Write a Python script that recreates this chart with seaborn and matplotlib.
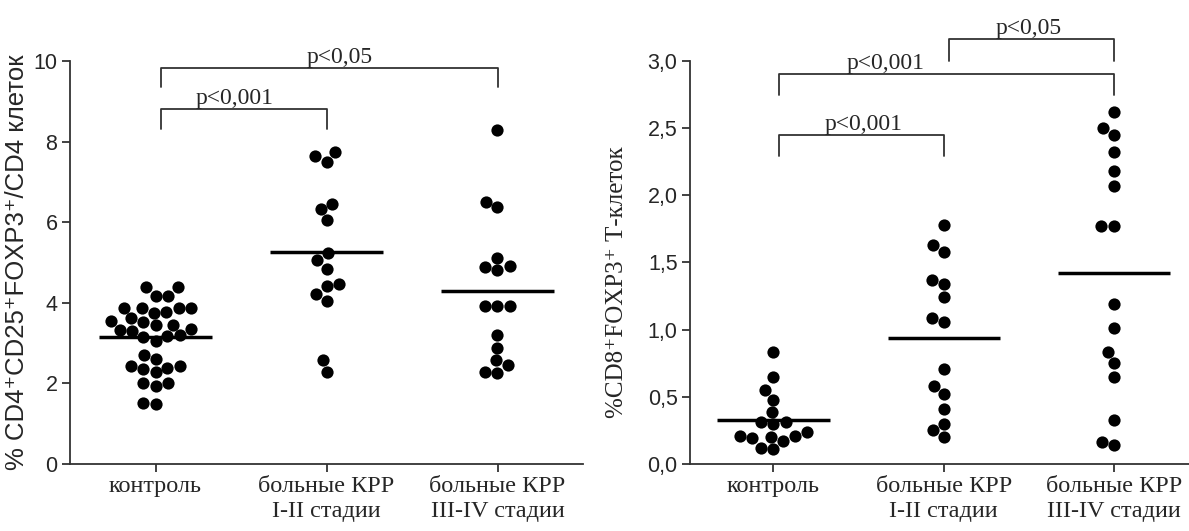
import numpy as np
import pandas as pd
import matplotlib
matplotlib.use("Agg")
import matplotlib.pyplot as plt
import seaborn as sns

sns.set_style("ticks")
plt.rcParams['font.family'] = ['Liberation Sans', 'DejaVu Sans']

groups = ["контроль", "больные КРР\nI-II стадии", "больные КРР\nIII-IV стадии"]

# левая панель: % CD4+CD25+FOXP3+ / CD4
cd4_control = [4.39, 4.39, 4.18, 4.18, 3.88, 3.88, 3.78, 3.88, 3.88, 3.63, 3.52, 3.56,
               3.75, 3.45, 3.33, 3.45, 3.35, 3.31, 3.20, 3.14, 3.06, 3.18, 2.71, 2.43,
               2.39, 2.43, 2.35, 2.60, 2.28, 2.02, 1.93, 2.02, 1.49, 1.52]
cd4_stage12 = [7.73, 7.64, 7.50, 6.33, 6.45, 6.06, 5.23, 5.06, 4.85, 4.46, 4.42, 4.23,
               4.04, 2.58, 2.29]
cd4_stage34 = [8.29, 6.38, 6.50, 5.12, 4.88, 4.81, 4.91, 3.92, 3.92, 3.92, 3.20, 2.89,
               2.46, 2.58, 2.27, 2.29]
cd4_means = [3.14, 5.26, 4.28]

# правая панель: % CD8+FOXP3+ Т-клеток
cd8_control = [0.83, 0.65, 0.55, 0.48, 0.39, 0.31, 0.30, 0.31, 0.24, 0.21, 0.19, 0.20,
               0.21, 0.17, 0.11, 0.12]
cd8_stage12 = [1.78, 1.63, 1.58, 1.34, 1.37, 1.24, 1.06, 1.09, 0.71, 0.58, 0.52, 0.41,
               0.30, 0.25, 0.20]
cd8_stage34 = [2.62, 2.50, 2.45, 2.32, 2.18, 2.07, 1.77, 1.77, 1.19, 1.01, 0.83, 0.75,
               0.65, 0.33, 0.14, 0.16]
cd8_means = [0.33, 0.94, 1.42]

# скобки: (группа1, группа2, уровень, низ, подпись)
cd4_brackets = [(0, 2, 9.83, 9.35, "p<0,05"), (0, 1, 8.81, 8.30, "p<0,001")]
cd8_brackets = [(0, 1, 2.45, 2.29, "p<0,001"), (0, 2, 2.90, 2.75, "p<0,001"),
                (1, 2, 3.16, 3.00, "p<0,05")]


def make_df(vals):
    rows = []
    for g, v in zip(groups, vals):
        rows += [(g, x) for x in v]
    return pd.DataFrame(rows, columns=["group", "value"])


serif = ['Liberation Serif', 'DejaVu Serif']
sans = ['Liberation Sans', 'DejaVu Sans']

fig = plt.figure(figsize=(11.89, 5.31), dpi=100)
ax1 = fig.add_axes([70 / 1189, 0.1262, 513 / 1189, 0.759])
ax2 = fig.add_axes([690 / 1189, 0.1262, 499 / 1189, 0.759])


def draw_panel(ax, df, means, brackets, text_x, ylim, ticks, ticklabels):
    # раскладка роя считается по крупному маркеру, потом точки уменьшаем
    sns.swarmplot(data=df, x="group", y="value", order=groups, color="black",
                  size=11, ax=ax, warn_thresh=1)
    for coll in ax.collections:
        coll.set_sizes([8.8 ** 2])
    for i, m in enumerate(means):
        ax.hlines(m, i - 0.33, i + 0.33, color="black", lw=2.5, zorder=3)
    for (a, b, top, low, lab), tx in zip(brackets, text_x):
        ax.plot([a + 0.03, a + 0.03, b + 0.0, b + 0.0], [low, top, top, low],
                color="#333333", lw=1.3, clip_on=False)
        ax.text(tx, top, lab, ha="center", va="bottom", fontsize=17,
                family=serif)
    ax.set_ylim(*ylim)
    ax.set_yticks(ticks)
    ax.set_yticklabels(ticklabels, fontsize=15.5, family=sans)
    ax.set_xticks(range(3))
    ax.set_xticklabels(groups, fontsize=17.5, family=serif)
    ax.set_xlabel("")
    sns.despine(ax=ax)
    for s in ["left", "bottom"]:
        ax.spines[s].set_linewidth(1.3)
        ax.spines[s].set_color("#333333")
    ax.tick_params(axis="both", width=1.3, length=6, color="#333333", pad=3)


draw_panel(ax1, make_df([cd4_control, cd4_stage12, cd4_stage34]), cd4_means,
           cd4_brackets, [1.08, 0.46], (0, 10), [0, 2, 4, 6, 8, 10],
           ["0", "2", "4", "6", "8", "10"])
ax1.set_xlim(-0.5, 2.5)
ax1.set_ylabel("% CD4⁺CD25⁺FOXP3⁺/CD4 клеток", fontsize=18.5, family=sans,
               labelpad=3)

draw_panel(ax2, make_df([cd8_control, cd8_stage12, cd8_stage34]), cd8_means,
           cd8_brackets, [0.53, 0.66, 1.50], (0, 3.0),
           [0, 0.5, 1.0, 1.5, 2.0, 2.5, 3.0],
           ["0,0", "0,5", "1,0", "1,5", "2,0", "2,5", "3,0"])
ax2.set_xlim(-0.49, 2.44)
ax2.set_ylabel("%CD8⁺FOXP3⁺ Т-клеток", fontsize=18, family=serif, labelpad=8)
ax2.yaxis.set_label_coords(-0.125, 0.45)

fig.savefig("out.png", dpi=100)
